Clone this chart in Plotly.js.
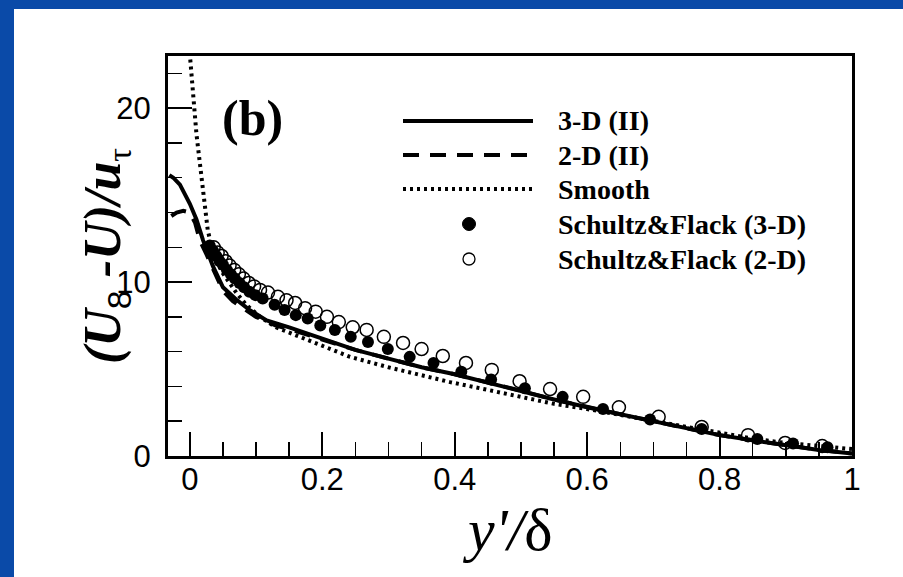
<!DOCTYPE html>
<html style="background:#fff">
<head>
<meta charset="utf-8">
<script src="https://cdn.plot.ly/plotly-3.0.1.min.js"></script>
<style>
  html, body { margin: 0; padding: 0; width: 903px; height: 577px; overflow: hidden; background: #fff; }
  #chart { position: absolute; left: 0; top: 0; width: 903px; height: 577px; background: #fff; }
</style>
</head>
<body>
<div id="chart"></div>
<script>
// ---- data ----
const solid3D_x = [-0.031, -0.025, -0.015, -0.005, 0.0, 0.01, 0.02, 0.035, 0.05, 0.07, 0.09, 0.116, 0.15, 0.2, 0.25, 0.3, 0.35, 0.4, 0.45, 0.5, 0.55, 0.6, 0.65, 0.7, 0.75, 0.8, 0.85, 0.9, 0.95, 1.0];
const solid3D_y = [16.15, 16.0, 15.6, 14.9, 14.5, 13.6, 12.4, 10.9, 9.7, 9.0, 8.4, 7.8, 7.4, 6.75, 6.1, 5.6, 5.1, 4.7, 4.2, 3.75, 3.25, 2.8, 2.4, 2.05, 1.6, 1.2, 0.9, 0.6, 0.35, 0.15];

const dash2D_x = [-0.028, -0.02, -0.01, 0.0, 0.008, 0.015, 0.025, 0.033, 0.042, 0.05, 0.065, 0.08, 0.1, 0.13, 0.15, 0.2, 0.25, 0.3, 0.35, 0.4, 0.45, 0.5, 0.55, 0.6, 0.65, 0.7, 0.75, 0.8, 0.85, 0.9, 0.95, 1.0];
const dash2D_y = [13.8, 14.0, 14.1, 14.0, 13.4, 12.4, 11.6, 10.9, 10.1, 9.5, 8.9, 8.5, 8.0, 7.5, 7.3, 6.7, 6.1, 5.6, 5.1, 4.7, 4.25, 3.75, 3.25, 2.8, 2.4, 2.0, 1.6, 1.2, 0.9, 0.6, 0.35, 0.15];

const smooth_x = [-0.002, 0.003, 0.006, 0.01, 0.014, 0.018, 0.023, 0.027, 0.033, 0.04, 0.05, 0.06, 0.07, 0.085, 0.106, 0.13, 0.166, 0.2, 0.242, 0.3, 0.35, 0.393, 0.45, 0.5, 0.55, 0.6, 0.65, 0.7, 0.75, 0.8, 0.85, 0.9, 0.95, 1.0];
const smooth_y = [24.0, 21.5, 20.0, 18.5, 17.2, 16.0, 14.2, 13.0, 12.0, 11.2, 10.5, 9.9, 9.4, 8.7, 8.0, 7.4, 6.85, 6.35, 5.7, 5.1, 4.65, 4.25, 3.8, 3.4, 3.0, 2.7, 2.35, 2.05, 1.65, 1.3, 1.0, 0.75, 0.55, 0.4];

const sf3D_x = [0.030, 0.035, 0.040, 0.045, 0.050, 0.056, 0.062, 0.068, 0.075, 0.082, 0.090, 0.099, 0.110, 0.128, 0.143, 0.160, 0.178, 0.197, 0.219, 0.243, 0.269, 0.299, 0.332, 0.368, 0.410, 0.455, 0.506, 0.563, 0.624, 0.695, 0.773, 0.857, 0.911, 0.963];
const sf3D_y = [12.1, 11.8, 11.5, 11.2, 11.0, 10.7, 10.45, 10.2, 9.95, 9.7, 9.45, 9.25, 9.05, 8.7, 8.4, 8.1, 7.9, 7.5, 7.25, 6.85, 6.55, 6.15, 5.7, 5.35, 4.85, 4.4, 3.9, 3.4, 2.7, 2.1, 1.55, 0.98, 0.72, 0.5];

const sf2D_x = [0.036, 0.042, 0.048, 0.054, 0.060, 0.067, 0.074, 0.081, 0.089, 0.097, 0.106, 0.118, 0.133, 0.146, 0.159, 0.174, 0.190, 0.207, 0.225, 0.246, 0.267, 0.293, 0.322, 0.350, 0.382, 0.417, 0.456, 0.498, 0.544, 0.594, 0.648, 0.708, 0.773, 0.843, 0.899, 0.955];
const sf2D_y = [12.0, 11.7, 11.5, 11.2, 10.95, 10.7, 10.45, 10.2, 9.95, 9.75, 9.55, 9.4, 9.15, 8.95, 8.8, 8.5, 8.3, 8.0, 7.7, 7.4, 7.25, 6.85, 6.5, 6.15, 5.75, 5.35, 4.95, 4.3, 3.85, 3.4, 2.8, 2.25, 1.67, 1.2, 0.75, 0.57];

const legendLabels = ["3-D (II)", "2-D (II)", "Smooth", "Schultz&Flack (3-D)", "Schultz&Flack (2-D)"];
const xTickVals = [0, 0.2, 0.4, 0.6, 0.8, 1];
const xTickText = ["0", "0.2", "0.4", "0.6", "0.8", "1"];
const yTickVals = [0, 10, 20];
const yTickText = ["0", "10", "20"];

// ---- layout helpers (page pixels -> paper coords of plot area) ----
const W = 903, H = 577;
const PL = 168, PR = 852, PT = 56, PB = 456;
const px = p => (p - PL) / (PR - PL);
const py = p => (PB - p) / (PB - PT);

const SERIF = "Liberation Serif, Times New Roman, serif";
const SANS = "Liberation Sans, Arial, sans-serif";
const FRAME = "#0a4aa8";

const solidStyle = {color: "#000", width: 4, dash: "solid"};
const dashStyle = {color: "#000", width: 4, dash: "16px,11px"};
const dotStyle = {color: "#000", width: 4, dash: "3px,4px"};

const traces = [
  {x: smooth_x, y: smooth_y, mode: "lines", line: dotStyle, name: legendLabels[2]},
  {x: dash2D_x, y: dash2D_y, mode: "lines", line: dashStyle, name: legendLabels[1]},
  {x: solid3D_x, y: solid3D_y, mode: "lines", line: solidStyle, name: legendLabels[0]},
  {x: sf2D_x, y: sf2D_y, mode: "markers", name: legendLabels[4],
   marker: {symbol: "circle-open", size: 13, color: "#000", line: {width: 1.5, color: "#000"}}},
  {x: sf3D_x, y: sf3D_y, mode: "markers", name: legendLabels[3],
   marker: {symbol: "circle", size: 12, color: "#000"}}
];

// frame bars (left and top) and manual legend
const rowY = [121, 155, 189, 224, 259];
const lineX0 = 403, lineX1 = 533, markX = 469, textX = 556;
const shapes = [
  {type: "rect", xref: "paper", yref: "paper", layer: "below", x0: px(0), x1: px(14), y0: py(H), y1: py(0),
   fillcolor: FRAME, line: {width: 0}},
  {type: "rect", xref: "paper", yref: "paper", layer: "below", x0: px(0), x1: px(W), y0: py(9), y1: py(0),
   fillcolor: FRAME, line: {width: 0}},
  {type: "line", xref: "paper", yref: "paper", x0: px(lineX0), x1: px(lineX1), y0: py(rowY[0]), y1: py(rowY[0]), line: solidStyle},
  {type: "line", xref: "paper", yref: "paper", x0: px(lineX0), x1: px(lineX1), y0: py(rowY[1]), y1: py(rowY[1]), line: dashStyle},
  {type: "line", xref: "paper", yref: "paper", x0: px(lineX0), x1: px(lineX1), y0: py(rowY[2]), y1: py(rowY[2]), line: dotStyle},
  {type: "circle", xref: "paper", yref: "paper", xsizemode: "pixel", ysizemode: "pixel",
   xanchor: px(markX), yanchor: py(rowY[3]), x0: -6.5, x1: 6.5, y0: -6.5, y1: 6.5,
   fillcolor: "#000", line: {color: "#000", width: 1}},
  {type: "circle", xref: "paper", yref: "paper", xsizemode: "pixel", ysizemode: "pixel",
   xanchor: px(markX), yanchor: py(rowY[4]), x0: -6, x1: 6, y0: -6, y1: 6,
   fillcolor: "rgba(0,0,0,0)", line: {color: "#000", width: 1.3}}
];

const annotations = legendLabels.map((t, i) => ({
  xref: "paper", yref: "paper", x: px(textX), y: py(rowY[i]),
  xanchor: "left", yanchor: "middle", showarrow: false,
  text: "<b>" + t + "</b>", font: {family: SERIF, size: 28, color: "#000"}
}));

annotations.push({
  xref: "paper", yref: "paper", x: px(252), y: py(118), xanchor: "center", yanchor: "middle",
  showarrow: false, text: "<b>(b)</b>", font: {family: SERIF, size: 50, color: "#000"}
});
annotations.push({
  xref: "paper", yref: "paper", x: px(507), y: py(530), xanchor: "center", yanchor: "middle",
  showarrow: false, text: "<i>y'/</i>δ", font: {family: SERIF, size: 60, color: "#000"}
});
annotations.push({
  xref: "paper", yref: "paper", x: px(106), y: py(256), xanchor: "center", yanchor: "middle",
  showarrow: false, textangle: -90,
  text: '<b><i>(U</i></b><sub><span style="font-family:Liberation Sans;font-size:34px">8</span></sub><b><i> -U)/u</i></b><sub><span style="font-size:34px">τ</span></sub>',
  font: {family: SERIF, size: 52, color: "#000"}
});

const axisCommon = {
  showgrid: false, zeroline: false, showline: true, mirror: true,
  linecolor: "#000", linewidth: 3,
  ticks: "inside", ticklen: 24, tickwidth: 2, tickcolor: "#000",
  tickfont: {family: SANS, size: 31, color: "#000"},
  tickmode: "array"
};

const layout = {
  width: W, height: H,
  margin: {l: PL, r: W - PR, t: PT, b: H - PB, pad: 0},
  paper_bgcolor: "#fff", plot_bgcolor: "#fff",
  showlegend: false,
  xaxis: Object.assign({}, axisCommon, {
    range: [-0.033, 1.0], tickvals: xTickVals, ticktext: xTickText,
    minor: {ticks: "inside", ticklen: 14, tickwidth: 1.5, tickcolor: "#000", dtick: 0.05, tick0: 0},
    ticklabelstandoff: -6
  }),
  yaxis: Object.assign({}, axisCommon, {
    range: [0, 23], tickvals: yTickVals, ticktext: yTickText,
    minor: {ticks: "inside", ticklen: 14, tickwidth: 1.5, tickcolor: "#000", dtick: 2, tick0: 0},
    ticklabelstandoff: 8
  }),
  shapes: shapes,
  annotations: annotations
};

Plotly.newPlot("chart", traces, layout, {staticPlot: true, displayModeBar: false});
</script>
</body>
</html>
